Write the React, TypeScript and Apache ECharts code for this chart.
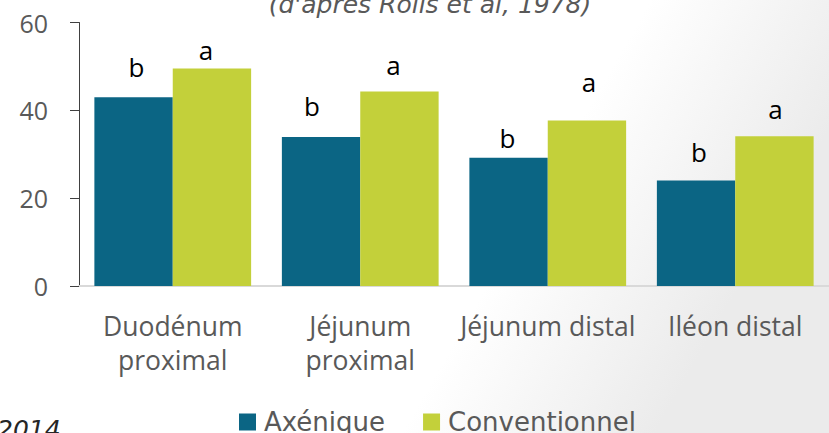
import React, { useEffect, useRef } from "react";
import * as echarts from "echarts";

const categories = ["Duodénum\nproximal", "Jéjunum\nproximal", "Jéjunum distal", "Iléon distal"];
const axeniqueValues = [43.0, 33.9, 29.2, 24.0];
const conventionnelValues = [49.5, 44.3, 37.7, 34.1];
const axeniqueLetters = ["b", "b", "b", "b"];
const conventionnelLetters = ["a", "a", "a", "a"];
const yTicks = { min: 0, max: 60, interval: 20 };
const seriesNames = ["Axénique", "Conventionnel"];
const titleText = "(d'après Rolls et al, 1978)";
const footText = "2014";

// layout: [dx, distance above bar] (px) of each hand-placed letter
const axeniqueLabelPos = [[3, 17], [-9, 18], [-1, 7], [3, 16]];
const conventionnelLabelPos = [[-6, 6], [-6, 13], [2, 25], [1, 14]];

export default function App() {
  const ref = useRef<HTMLDivElement>(null);
  useEffect(() => {
    document.body.style.margin = "0";
    if (!ref.current) return;
    const chart = echarts.init(ref.current, null, { renderer: "svg" });
    const grey = "#595959";
    const font = "Open Sans";
    const letterLabel = {
      show: true,
      position: "top",
      fontFamily: font,
      fontSize: 26,
      color: "#000",
    };
    const withLabel = (vals: number[], pos: number[][]) =>
      vals.map((v, i) => ({
        value: v,
        label: { distance: pos[i][1], offset: [pos[i][0], 0] },
      }));
    chart.setOption({
      animation: false,
      backgroundColor: {
        type: "linear",
        x: 0,
        y: 0,
        x2: 1,
        y2: 0.3,
        colorStops: [
          { offset: 0, color: "#ffffff" },
          { offset: 0.72, color: "#ffffff" },
          { offset: 1, color: "#ebebeb" },
        ],
      },
      grid: { left: 79, right: -6, top: 22.5, bottom: 147 },
      legend: {
        top: 409,
        left: 239,
        padding: 0,
        itemWidth: 17,
        itemHeight: 17,
        itemGap: 38,
        icon: "rect",
        textStyle: { fontFamily: "DejaVu Sans", fontSize: 26, color: grey, padding: [0, 0, 0, 3] },
        data: seriesNames,
      },
      xAxis: {
        type: "category",
        data: categories,
        axisLine: { show: true, lineStyle: { color: "#d9d9d9", width: 2 } },
        axisTick: { show: false },
        axisLabel: {
          interval: 0,
          margin: 23,
          fontFamily: font,
          fontSize: 26.5,
          lineHeight: 34,
          color: grey,
        },
      },
      yAxis: {
        type: "value",
        min: yTicks.min,
        max: yTicks.max,
        interval: yTicks.interval,
        splitLine: { show: false },
        axisLine: { show: true, lineStyle: { color: "#404040", width: 1 } },
        axisTick: { show: true, length: 9, lineStyle: { color: "#404040" } },
        axisLabel: { margin: 31, fontFamily: font, fontSize: 25, color: grey },
      },
      series: [
        {
          name: seriesNames[0],
          type: "bar",
          data: withLabel(axeniqueValues, axeniqueLabelPos),
          barGap: "0%",
          barCategoryGap: "16.4%",
          itemStyle: { color: "#0B6584" },
          label: { ...letterLabel, formatter: (p: any) => axeniqueLetters[p.dataIndex] },
        },
        {
          name: seriesNames[1],
          type: "bar",
          data: withLabel(conventionnelValues, conventionnelLabelPos),
          barGap: "0%",
          barCategoryGap: "16.4%",
          itemStyle: { color: "#C3D03A" },
          label: { ...letterLabel, formatter: (p: any) => conventionnelLetters[p.dataIndex] },
        },
      ],
      graphic: [
        {
          type: "text",
          x: 430,
          y: 17,
          style: {
            text: titleText,
            align: "center",
            verticalAlign: "bottom",
            font: "oblique 25px 'DejaVu Sans'",
            fill: grey,
          },
        },
        {
          type: "text",
          x: -3,
          y: 417,
          style: {
            text: footText,
            align: "left",
            verticalAlign: "top",
            font: "oblique 25px 'DejaVu Sans'",
            fill: "#262626",
          },
        },
      ],
    });
    return () => chart.dispose();
  }, []);
  return <div ref={ref} style={{ width: 829, height: 433 }} />;
}
